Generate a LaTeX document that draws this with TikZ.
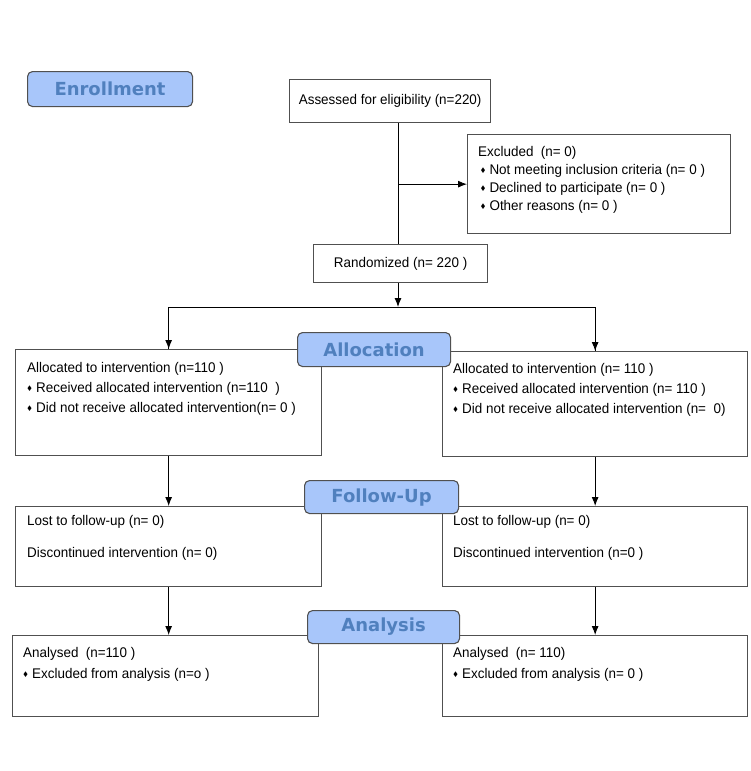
\documentclass[tikz,border=0pt]{standalone}
\usepackage{amssymb}
\usepackage{fontspec}
\setmainfont[FakeStretch=0.96]{Liberation Sans}
\newfontfamily\stagefont{DejaVu Sans}
\usetikzlibrary{arrows.meta}

\definecolor{stagefill}{RGB}{168,198,250}
\definecolor{stagetext}{RGB}{80,128,190}
\definecolor{boxline}{RGB}{80,80,80}
\newcommand{\dmd}{\raisebox{0.2ex}{\fontsize{6.5}{6.5}\selectfont$\blacklozenge$}\hspace{4pt}}

\tikzset{
	stage/.style={draw=boxline, line width=1.1pt, rounded corners=5pt, fill=stagefill, text=stagetext,
		font=\stagefont\bfseries\fontsize{18}{18}\selectfont, anchor=north west},
	box/.style={draw=boxline, line width=1.3pt, anchor=north west, font=\fontsize{14}{16}\selectfont},
	txt/.style={anchor=north west, align=left, inner sep=0pt},
	arr/.style={-{Latex[length=9pt,width=7pt]}, line width=0.9pt}
}

\begin{document}
\begin{tikzpicture}[x=1pt, y=-1pt]
		\useasboundingbox (0,0) rectangle (750,771);

		% enrollment
		\node[box, minimum width=201pt, minimum height=43pt] (assess) at (289,79) {Assessed for eligibility (n=220)};
		\node[box, minimum width=263pt, minimum height=99pt] (excl) at (467,134) {};
		\node[txt, font=\fontsize{14}{18}\selectfont] (excltxt) at (478,146) {Excluded~ (n= 0)\\
			\,\dmd Not meeting inclusion criteria (n= 0 )\\
			\,\dmd Declined to participate (n= 0 )\\
			\,\dmd Other reasons (n= 0 )};
		\node[box, minimum width=174pt, minimum height=38pt] (random) at (313,244) {Randomized (n= 220 )};
		\coordinate (split) at (398,307);

		% allocation
		\node[box, minimum width=306pt, minimum height=106pt] (allocL) at (15,349) {};
		\node[box, minimum width=305pt, minimum height=105pt] (allocR) at (442,351) {};
		\node[txt, font=\fontsize{14}{20}\selectfont] (allocLtxt) at (27,362) {Allocated to intervention (n=110 )\\
			\dmd Received allocated intervention (n=110~ )\\
			\dmd Did not receive allocated intervention(n= 0 )};
		\node[txt, font=\fontsize{14}{20}\selectfont] (allocRtxt) at (453,363) {Allocated to intervention (n= 110 )\\
			\dmd Received allocated intervention (n= 110 )\\
			\dmd Did not receive allocated intervention (n=~ 0)};

		% follow-up
		\node[box, minimum width=306pt, minimum height=80pt] (fuL) at (15,506) {};
		\node[box, minimum width=305pt, minimum height=80pt] (fuR) at (442,506) {};
		\node[txt, font=\fontsize{14}{32}\selectfont] (fuLtxt) at (27,515) {Lost to follow-up (n= 0)\\
			Discontinued intervention (n= 0)};
		\node[txt, font=\fontsize{14}{32}\selectfont] (fuRtxt) at (453,515) {Lost to follow-up (n= 0)\\
			Discontinued intervention (n=0 )};

		% analysis
		\node[box, minimum width=306pt, minimum height=81pt] (anL) at (12,635) {};
		\node[box, minimum width=305pt, minimum height=81pt] (anR) at (442,635) {};
		\node[txt, font=\fontsize{14}{21}\selectfont] (anLtxt) at (23,647) {Analysed~ (n=110 )\\
			\dmd Excluded from analysis (n=o )};
		\node[txt, font=\fontsize{14}{21}\selectfont] (anRtxt) at (453,647) {Analysed~ (n= 110)\\
			\dmd Excluded from analysis (n= 0 )};

		% connectors
		\draw[line width=0.9pt] (assess.south -| split) -- (random.north -| split);
		\draw[arr] (split |- excl.west) -- (excl.west);
		\draw[arr] (random.south -| split) -- (split);
		\draw[line width=0.9pt] (split) -| (allocL.north);
		\draw[line width=0.9pt] (split) -| (allocR.north);
		\draw[arr] (split -| allocL.north) -- (allocL.north);
		\draw[arr] (split -| allocR.north) -- (allocR.north);
		\draw[arr] (allocL.south) -- (fuL.north);
		\draw[arr] (allocR.south) -- (fuR.north);
		\draw[arr] (fuL.south) -- (fuL.south |- anL.north);
		\draw[arr] (fuR.south) -- (fuR.south |- anR.north);

		% stage labels
		\node[stage, minimum width=165pt, minimum height=35pt] (enrol) at (27,71) {Enrollment};
		\node[stage, minimum width=153pt, minimum height=34pt] (alloc) at (297,332) {Allocation};
		\node[stage, minimum width=154pt, minimum height=33pt] (follow) at (304,480) {Follow-Up};
		\node[stage, minimum width=152pt, minimum height=33pt] (analys) at (307,610) {Analysis};
	\end{tikzpicture}
\end{document}
